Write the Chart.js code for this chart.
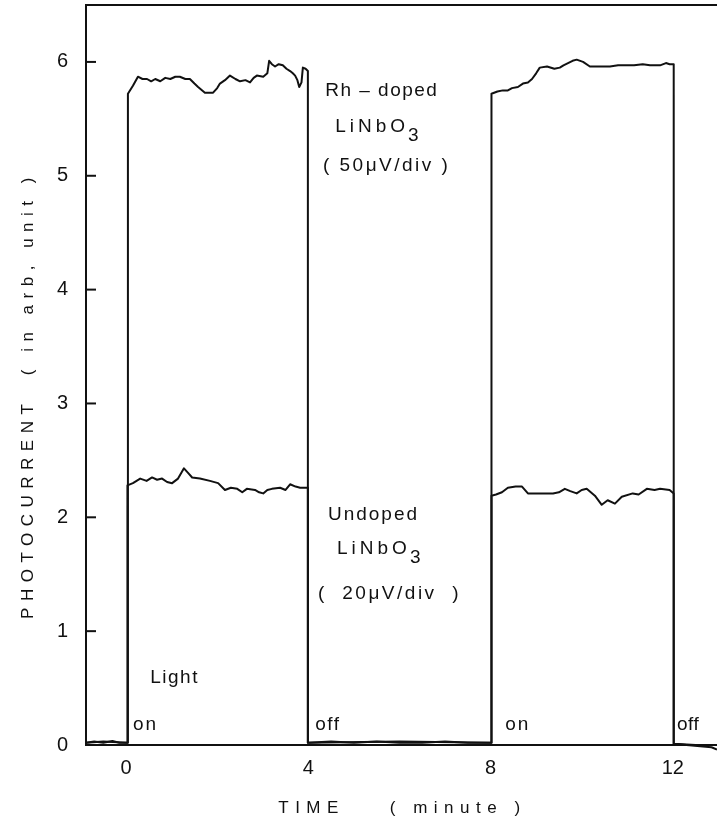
<!DOCTYPE html>
<html>
<head>
<meta charset="utf-8">
<title>Photocurrent vs time</title>
<script src="https://cdn.jsdelivr.net/npm/chart.js@4.4.1/dist/chart.umd.min.js"></script>
<style>
  html, body { margin:0; padding:0; background:#fff; }
  #wrap { width:717px; height:822px; }
</style>
</head>
<body>
<div id="wrap"><canvas id="chart" width="717" height="822"></canvas></div>
<script>
// axis ticks
const xTicks = [0, 4, 8, 12];
const yTicks = [0, 1, 2, 3, 4, 5, 6];

// Rh-doped LiNbO3 trace (time in minutes, photocurrent in arb. units)
const rhTime = [
  -0.88, -0.7, -0.5, -0.3, -0.15, 0.03,
  0.04, 0.15, 0.26, 0.36, 0.46, 0.55, 0.64, 0.75, 0.86, 0.97, 1.08, 1.18, 1.3, 1.4, 1.5, 1.58, 1.73, 1.91,
  2.0, 2.06, 2.17, 2.28, 2.4, 2.5, 2.62, 2.72, 2.8, 2.87, 3.01, 3.1, 3.14, 3.2, 3.27, 3.35, 3.44, 3.52, 3.6, 3.66, 3.71, 3.76, 3.8, 3.85, 3.88, 3.94, 3.99,
  3.99, 4.5, 5.0, 5.5, 6.0, 6.5, 7.0, 7.5, 8.02,
  8.02, 8.15, 8.27, 8.38, 8.47, 8.6, 8.71, 8.82, 8.91, 9.0, 9.08, 9.24, 9.4, 9.52, 9.6, 9.7, 9.8, 9.89, 10.03, 10.18, 10.4, 10.62, 10.8, 10.99, 11.15, 11.34, 11.5, 11.72, 11.85, 11.93, 12.02,
  12.02, 12.3, 12.6, 12.85, 12.97
];
const rhValue = [
  0.02, 0.03, 0.02, 0.035, 0.02, 0.02,
  5.72, 5.79, 5.87, 5.85, 5.85, 5.83, 5.85, 5.83, 5.86, 5.85, 5.87, 5.87, 5.85, 5.85, 5.81, 5.78, 5.73, 5.73,
  5.77, 5.81, 5.84, 5.88, 5.85, 5.83, 5.84, 5.82, 5.86, 5.88, 5.87, 5.90, 6.01, 5.98, 5.96, 5.98, 5.97, 5.94, 5.92, 5.90, 5.88, 5.84, 5.78, 5.82, 5.95, 5.94, 5.92,
  0.02, 0.03, 0.02, 0.03, 0.02, 0.02, 0.03, 0.02, 0.02,
  5.72, 5.74, 5.75, 5.75, 5.77, 5.78, 5.81, 5.82, 5.85, 5.90, 5.95, 5.96, 5.94, 5.95, 5.97, 5.99, 6.01, 6.02, 6.00, 5.96, 5.96, 5.96, 5.97, 5.97, 5.97, 5.98, 5.97, 5.97, 5.99, 5.98, 5.98,
  0.01, 0.0, -0.01, -0.02, -0.04
];

// Undoped LiNbO3 trace
const undopedTime = [
  -0.88, -0.5, 0.03,
  0.03, 0.15, 0.31, 0.45, 0.57, 0.68, 0.79, 0.9, 1.01, 1.14, 1.27, 1.36, 1.45, 1.62, 1.84, 2.02, 2.17, 2.3, 2.44, 2.55, 2.65, 2.83, 2.92, 3.01, 3.1, 3.2, 3.38, 3.5, 3.6, 3.72, 3.82, 3.99,
  3.99, 6.0, 8.02,
  8.02, 8.12, 8.25, 8.38, 8.55, 8.69, 8.82, 9.08, 9.37, 9.5, 9.63, 9.75, 9.89, 10.0, 10.11, 10.29, 10.44, 10.57, 10.73, 10.88, 11.12, 11.25, 11.43, 11.6, 11.72, 11.93, 12.02,
  12.02, 12.5
];
const undopedValue = [
  0.02, 0.03, 0.02,
  2.28, 2.30, 2.34, 2.32, 2.35, 2.33, 2.34, 2.31, 2.30, 2.34, 2.43, 2.39, 2.35, 2.34, 2.32, 2.30, 2.24, 2.26, 2.25, 2.22, 2.25, 2.24, 2.22, 2.21, 2.24, 2.25, 2.26, 2.24, 2.29, 2.27, 2.26, 2.26,
  0.02, 0.03, 0.02,
  2.19, 2.20, 2.22, 2.26, 2.27, 2.27, 2.21, 2.21, 2.21, 2.22, 2.25, 2.23, 2.21, 2.24, 2.25, 2.19, 2.11, 2.15, 2.12, 2.18, 2.21, 2.20, 2.25, 2.24, 2.25, 2.24, 2.21,
  0.01, 0.0
];

const INK = "#111";
const FONT = '"Liberation Sans", Arial, sans-serif';

const zip = (xs, ys) => xs.map((x, i) => ({ x, y: ys[i] }));

function drawText(ctx, text, x, y, size, spacing, align){
  ctx.save();
  ctx.font = `${size}px ${FONT}`;
  ctx.letterSpacing = spacing + "px";
  ctx.fillStyle = INK;
  ctx.textAlign = align || "left";
  ctx.textBaseline = "middle";
  ctx.fillText(text, x, y);
  const w = ctx.measureText(text).width;
  ctx.restore();
  return w;
}

// LiNbO3 with a lowered "3"
function drawFormula(ctx, x, y){
  const w = drawText(ctx, "LiNbO", x, y, 19, 4);
  drawText(ctx, "3", x + w - 1, y + 9, 19, 0);
}

const decorPlugin = {
  id: "decor",
  afterDraw(chart){
    const { ctx, chartArea, scales } = chart;
    const xs = scales.x, ys = scales.y;
    const px = (v) => xs.getPixelForValue(v);
    const py = (v) => ys.getPixelForValue(v);

    ctx.save();
    ctx.strokeStyle = INK;
    ctx.lineWidth = 2;
    // top frame line
    ctx.beginPath();
    ctx.moveTo(chartArea.left, chartArea.top);
    ctx.lineTo(chartArea.right, chartArea.top);
    ctx.stroke();
    // inward y tick marks
    yTicks.forEach(v => {
      ctx.beginPath();
      ctx.moveTo(chartArea.left, py(v));
      ctx.lineTo(chartArea.left + 10, py(v));
      ctx.stroke();
    });
    ctx.restore();

    // sample labels
    drawText(ctx, "Rh – doped", px(4.37), py(5.75), 19, 1.5);
    drawFormula(ctx, px(4.59), py(5.43));
    drawText(ctx, "( 50μV/div )", px(4.32), py(5.09), 19, 2.5);

    drawText(ctx, "Undoped", px(4.43), py(2.02), 19, 2);
    drawFormula(ctx, px(4.63), py(1.72));
    drawText(ctx, "(  20μV/div  )", px(4.21), py(1.33), 19, 2.5);

    drawText(ctx, "Light", px(0.53), py(0.59), 19, 1.5);
    drawText(ctx, "on", px(0.15), py(0.18), 19, 2);
    drawText(ctx, "off", px(4.15), py(0.18), 19, 1.5);
    drawText(ctx, "on", px(8.32), py(0.18), 19, 2);
    drawText(ctx, "off", px(12.09), py(0.18), 19, 0.5);

    // axis titles
    drawText(ctx, "TIME    ( minute )", px(3.34), 808, 17, 6.5);
    ctx.save();
    ctx.translate(28, 395);
    ctx.rotate(-Math.PI / 2);
    drawText(ctx, "PHOTOCURRENT  ( in arb, unit )", 0, 0, 17, 6.5, "center");
    ctx.restore();
  }
};

const traceStyle = {
  showLine: true,
  borderColor: INK,
  borderWidth: 2,
  pointRadius: 0,
  tension: 0,
  borderJoinStyle: "round",
  clip: 6
};

new Chart(document.getElementById("chart"), {
  type: "scatter",
  data: {
    datasets: [
      { label: "Rh-doped LiNbO3", data: zip(rhTime, rhValue), ...traceStyle },
      { label: "Undoped LiNbO3", data: zip(undopedTime, undopedValue), ...traceStyle }
    ]
  },
  options: {
    responsive: false,
    animation: false,
    layout: { padding: { top: 5, right: 0, left: 0, bottom: 0 } },
    plugins: { legend: { display: false }, tooltip: { enabled: false } },
    scales: {
      x: {
        type: "linear",
        min: -0.88,
        max: 12.97,
        afterBuildTicks: (s) => { s.ticks = xTicks.map(v => ({ value: v })); },
        afterFit: (s) => { s.height = 77; s.paddingLeft = 0; s.paddingRight = 0; },
        grid: { display: false, drawTicks: false },
        border: { display: true, color: INK, width: 2 },
        ticks: { color: INK, padding: 11, font: { family: FONT, size: 20 } }
      },
      y: {
        min: 0,
        max: 6.5,
        afterBuildTicks: (s) => { s.ticks = yTicks.map(v => ({ value: v })); },
        afterFit: (s) => { s.width = 86; s.paddingTop = 0; s.paddingBottom = 0; },
        grid: { display: false, drawTicks: false },
        border: { display: true, color: INK, width: 2 },
        ticks: { color: INK, padding: 18, font: { family: FONT, size: 20 } }
      }
    }
  },
  plugins: [decorPlugin]
});
</script>
</body>
</html>
